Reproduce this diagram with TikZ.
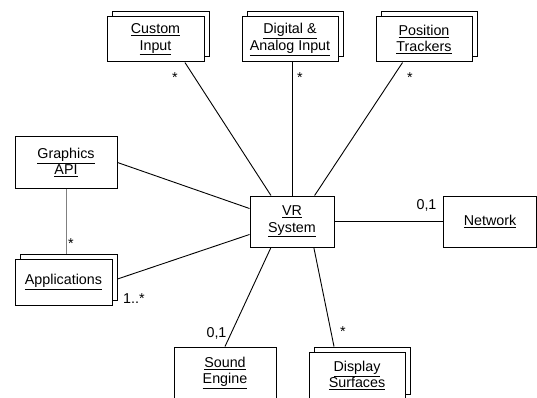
\documentclass[tikz,border=0pt]{standalone}
\usepackage{fontspec}
\setmainfont{Liberation Sans}
\usetikzlibrary{positioning,calc,shadows}
\tikzset{CLASS/.style={rectangle,draw,line width=1pt,fill=white,align=center,inner sep=0pt,font=\fontsize{14.3}{16.5}\selectfont}}
\tikzset{MULTI/.style={CLASS,copy shadow={shadow xshift=5pt,shadow yshift=5pt,draw,fill=white,line width=1pt}}}
\tikzset{LINK/.style={line width=0.9pt}}
\tikzset{MULT/.style={inner sep=0pt,anchor=base,font=\fontsize{14.3}{16.5}\selectfont}}
\newcommand{\cname}[1]{\underline{#1}}

\begin{document}
\begin{tikzpicture}[x=1pt,y=-1pt]

\useasboundingbox (0,0) rectangle (537,398);
\clip (0,0) rectangle (537,398);

\node[CLASS, minimum width=84pt, minimum height=51pt] (n_vr) at (292,221.5) {\cname{VR}\\\cname{System}};

\node[MULTI, minimum width=97pt, minimum height=45pt] (n_custom) at (155.5,39.5) {\cname{Custom}\\\cname{Input}};
\node[MULTI, minimum width=96pt, minimum height=45pt] (n_digital) at (290,39.5) {\cname{Digital \&}\\\cname{Analog Input}};
\node[MULTI, minimum width=96pt, minimum height=45pt] (n_position) at (424,39.5) {\cname{Position}\\\cname{Trackers}};

\node[CLASS, minimum width=102pt, minimum height=51pt] (n_graphics) at (66,162.5) {\cname{Graphics}\\\cname{API}};
\node[MULTI, minimum width=97pt, minimum height=46pt] (n_apps) at (63.5,282) {\cname{Applications}};

\node[CLASS, minimum width=93pt, minimum height=51pt] (n_network) at (490,221.5) {\cname{Network}};

\node[CLASS, minimum width=102pt, minimum height=52pt] (n_sound) at (225,373) {\cname{Sound}\\\cname{Engine}};
\node[MULTI, minimum width=96pt, minimum height=47pt] (n_display) at (357,375.5) {\cname{Display}\\\cname{Surfaces}};

\draw[LINK] (n_custom.-38) -- (n_vr.129.5);
\draw[LINK] (n_digital.south -| n_vr) -- (n_vr.north);
\draw[LINK] (n_position.-133) -- (n_vr.49.2);
\draw[LINK] (n_graphics.east) -- (n_vr.163.4);
\draw[LINK] ($(n_apps.east)+(5,-3)$) -- (n_vr.-163.4);
\draw[LINK, gray] (n_graphics.south) -- ($(n_graphics.south |- n_apps.north)+(0,-5)$);
\draw[LINK] (n_vr.east) -- (n_network.west);
\draw[LINK] (n_sound.north) -- (n_vr.-129.5);
\draw[LINK] ($(n_display.north)+(-23,-5)$) -- (n_vr.-50.5);

\node[MULT] (m_custom) at (175,83) {*};
\node[MULT] (m_digital) at (300,83) {*};
\node[MULT] (m_position) at (410,83) {*};
\node[MULT] (m_apps_api) at (71,248) {*};
\node[MULT, anchor=base west] (m_apps) at (123,303) {1..*};
\node[MULT] (m_network) at (426.5,209) {0,1};
\node[MULT] (m_sound) at (216.5,337) {0,1};
\node[MULT] (m_display) at (343,336) {*};

\end{tikzpicture}
\end{document}
